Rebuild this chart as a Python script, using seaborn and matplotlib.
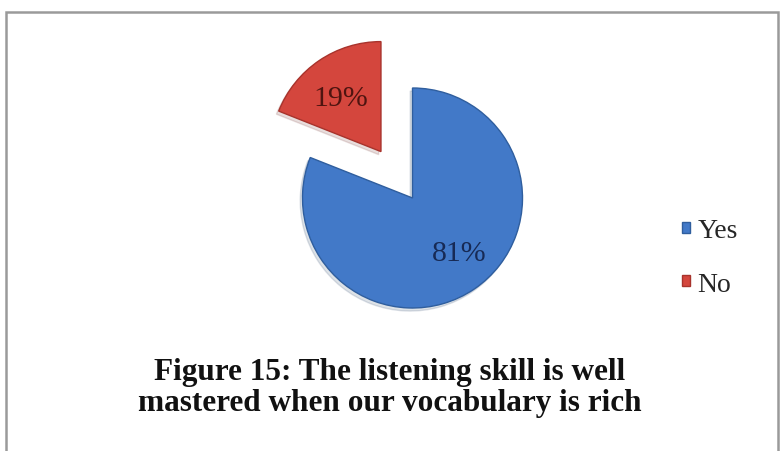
import matplotlib
matplotlib.use("Agg")
import matplotlib.pyplot as plt
import seaborn as sns
from matplotlib.patches import Rectangle

# Survey answers
categories = ["Yes", "No"]
shares = [81, 19]
colors = ["#4279C8", "#D4463D"]
edge_colors = ["#2F5E9E", "#A8332C"]
label_colors = ["#172A55", "#4E1410"]
title = "Figure 15: The listening skill is well\nmastered when our vocabulary is rich"

sns.set_theme(style="white")
plt.rcParams["font.family"] = ["Liberation Serif", "DejaVu Serif"]

W, H = 781, 452
fig = plt.figure(figsize=(W / 100, H / 100), dpi=100)
fig.patch.set_facecolor("white")

# pie axes: centre at (412.5, 199) px, radius ~110 px, limits +-2 units
R = 110.0
cx, cy = 412.5, 199.0
side = 4 * R
ax = fig.add_axes([(cx - side / 2) / W, (H - cy - side / 2) / H, side / W, side / H])
wedges, texts, autotexts = ax.pie(
    shares,
    colors=colors,
    startangle=90,
    counterclock=False,
    explode=[0, 0.51],
    autopct="%1.0f%%",
    pctdistance=0.65,
    wedgeprops=dict(linewidth=1.0),
    textprops=dict(fontsize=21.5),
    shadow=dict(ox=-0.015, oy=-0.02, shade=0.5, alpha=0.15),
)
for w, ec in zip(wedges, edge_colors):
    w.set_edgecolor(ec)
for t, c in zip(autotexts, label_colors):
    t.set_color(c)
# nudge the labels slightly toward the slice bulk
x, y = autotexts[0].get_position()
autotexts[0].set_position((x + 0.06, y + 0.04))
x, y = autotexts[1].get_position()
autotexts[1].set_position((x, y - 0.05))
ax.set_xlim(-2, 2)
ax.set_ylim(-2, 2)
ax.set_aspect("equal")
ax.axis("off")

leg = fig.legend(
    wedges, categories,
    loc="center left",
    bbox_to_anchor=(682 / W, 1 - 258.5 / H),
    frameon=False,
    fontsize=20,
    handlelength=0.3,
    handleheight=0.22,
    handletextpad=0.25,
    labelspacing=1.02,
    borderpad=0,
    borderaxespad=0,
)

fig.text(390 / W, 1 - 388 / H, title, ha="center", va="center",
         fontsize=22.5, fontweight="bold", color="#111111", linespacing=1.1)

# chart frame
fig.patches.append(Rectangle((6 / W, -0.05), (778 - 6) / W, 1 - 13 / H + 0.05,
                             transform=fig.transFigure, fill=False,
                             edgecolor="#9A9A9A", linewidth=1.8))

fig.savefig("out.png", dpi=100)
